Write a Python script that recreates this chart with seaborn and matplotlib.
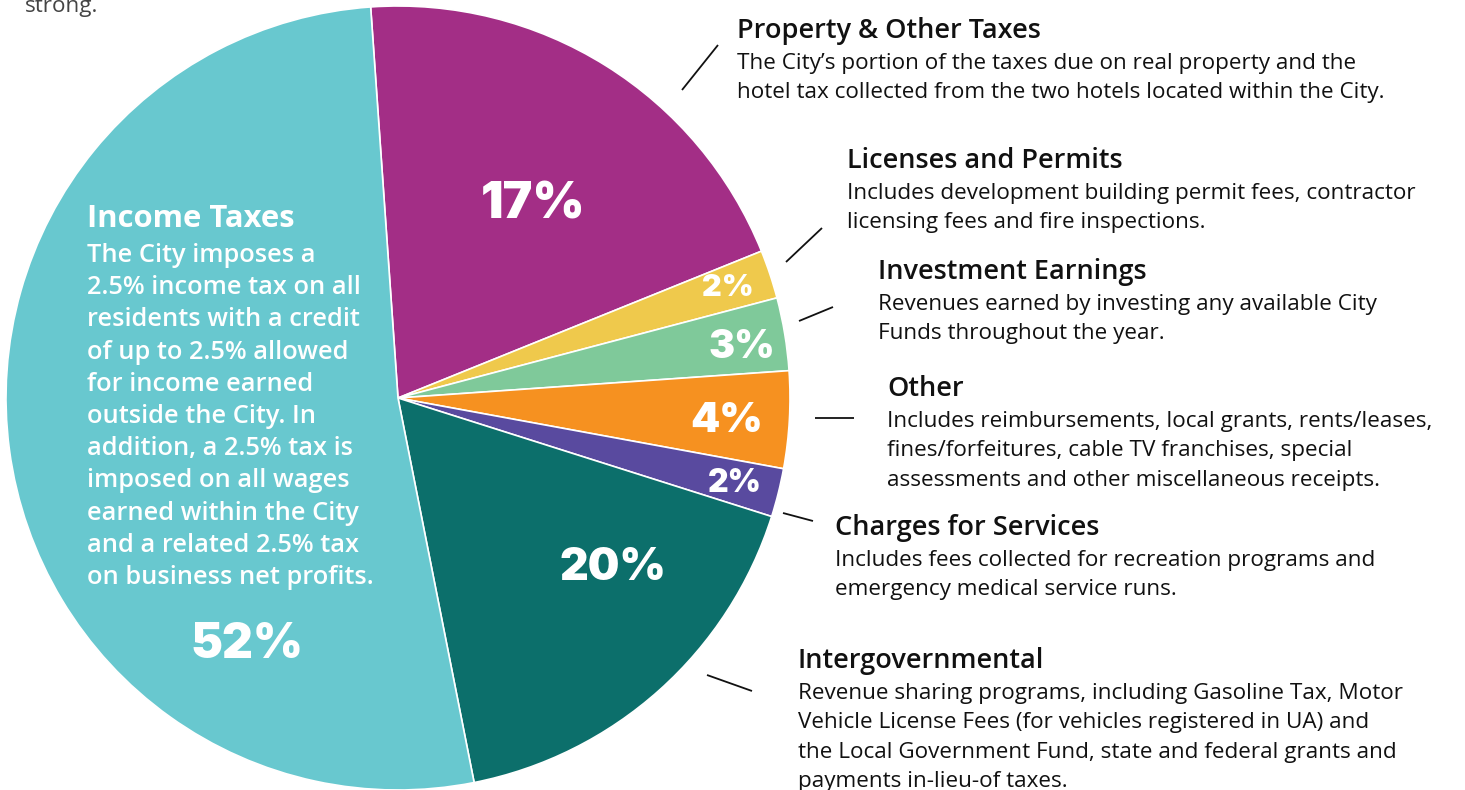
import matplotlib
matplotlib.use("Agg")
import matplotlib.pyplot as plt
import seaborn as sns

# revenue sources, clockwise from the top of the pie
categories = ["Property & Other Taxes", "Licenses and Permits", "Investment Earnings",
              "Other", "Charges for Services", "Intergovernmental", "Income Taxes"]
# slice sizes as drawn (the printed labels are kept separately below)
shares = [20, 2, 3, 4, 2, 17, 52]
pct_labels = ["17%", "2%", "3%", "4%", "2%", "20%", "52%"]
colors = ["#a32e86", "#efc94c", "#7fc99a", "#f69120", "#594a9f", "#0c6f6b", "#68c8cf"]

descriptions = [
    ["The City\u2019s portion of the taxes due on real property and the",
     "hotel tax collected from the two hotels located within the City."],
    ["Includes development building permit fees, contractor",
     "licensing fees and fire inspections."],
    ["Revenues earned by investing any available City",
     "Funds throughout the year."],
    ["Includes reimbursements, local grants, rents/leases,",
     "fines/forfeitures, cable TV franchises, special",
     "assessments and other miscellaneous receipts."],
    ["Includes fees collected for recreation programs and",
     "emergency medical service runs."],
    ["Revenue sharing programs, including Gasoline Tax, Motor",
     "Vehicle License Fees (for vehicles registered in UA) and",
     "the Local Government Fund, state and federal grants and",
     "payments in-lieu-of taxes."],
    ["The City imposes a", "2.5% income tax on all", "residents with a credit",
     "of up to 2.5% allowed", "for income earned", "outside the City. In",
     "addition, a 2.5% tax is", "imposed on all wages", "earned within the City",
     "and a related 2.5% tax", "on business net profits."],
]

sns.set_theme(style="white")
plt.rcParams["font.family"] = ["Open Sans", "DejaVu Sans"]

W, H = 1465, 790
fig = plt.figure(figsize=(W / 100, H / 100), dpi=100)
ax = fig.add_axes([0, 0, 1, 1])


def Y(y):
    return H - y


ax.pie(shares, colors=colors, startangle=94, counterclock=False,
       center=(398, Y(398)), radius=392,
       wedgeprops=dict(edgecolor="white", linewidth=1.2))
ax.set_xlim(0, W)
ax.set_ylim(0, H)
ax.set_aspect("equal")
ax.axis("off")

# percent labels inside the slices
pct_pos = [(533, 205), (728, 288), (742, 348), (727, 421), (735, 484), (613, 568), (247, 645)]
pct_size = [36, 22, 28, 30, 23, 32, 34.5]
for lab, (x, y), s in zip(pct_labels, pct_pos, pct_size):
    ax.text(x, Y(y), lab, color="white", fontsize=s, fontweight=900,
            family=["Inter", "DejaVu Sans"], ha="center", va="center")

# side captions: (x, heading baseline)
cap_pos = [(737, 38), (847, 168), (878, 279), (887, 396), (835, 535), (798, 668)]
for i, (x, yb) in enumerate(cap_pos):
    ax.text(x, Y(yb), categories[i], fontsize=19.5, fontweight="semibold",
            color="#111111", va="baseline")
    for j, line in enumerate(descriptions[i]):
        ax.text(x, Y(yb + 31 + j * 29.3), line, fontsize=16.2,
                color="#111111", va="baseline")

# leader lines
leaders = [((682, 90), (718, 45)), ((786, 262), (822, 228)), ((799, 321), (833, 307)),
           ((815, 418), (854, 418)), ((783, 513), (813, 521)), ((707, 675), (752, 691))]
for (x0, y0), (x1, y1) in leaders:
    ax.plot([x0, x1], [Y(y0), Y(y1)], color="#111111", lw=1.3, solid_capstyle="butt")

# income taxes text inside the big slice
ax.text(87, Y(227), categories[6], fontsize=22.3, fontweight="bold", color="white",
        va="baseline")
for j, line in enumerate(descriptions[6]):
    ax.text(87, Y(262 + j * 32.2), line, fontsize=18.3, fontweight="semibold",
            color="white", va="baseline")

ax.text(25, Y(12), "strong.", fontsize=16.2, color="#444444", va="baseline")

fig.savefig("out.png", dpi=100)
